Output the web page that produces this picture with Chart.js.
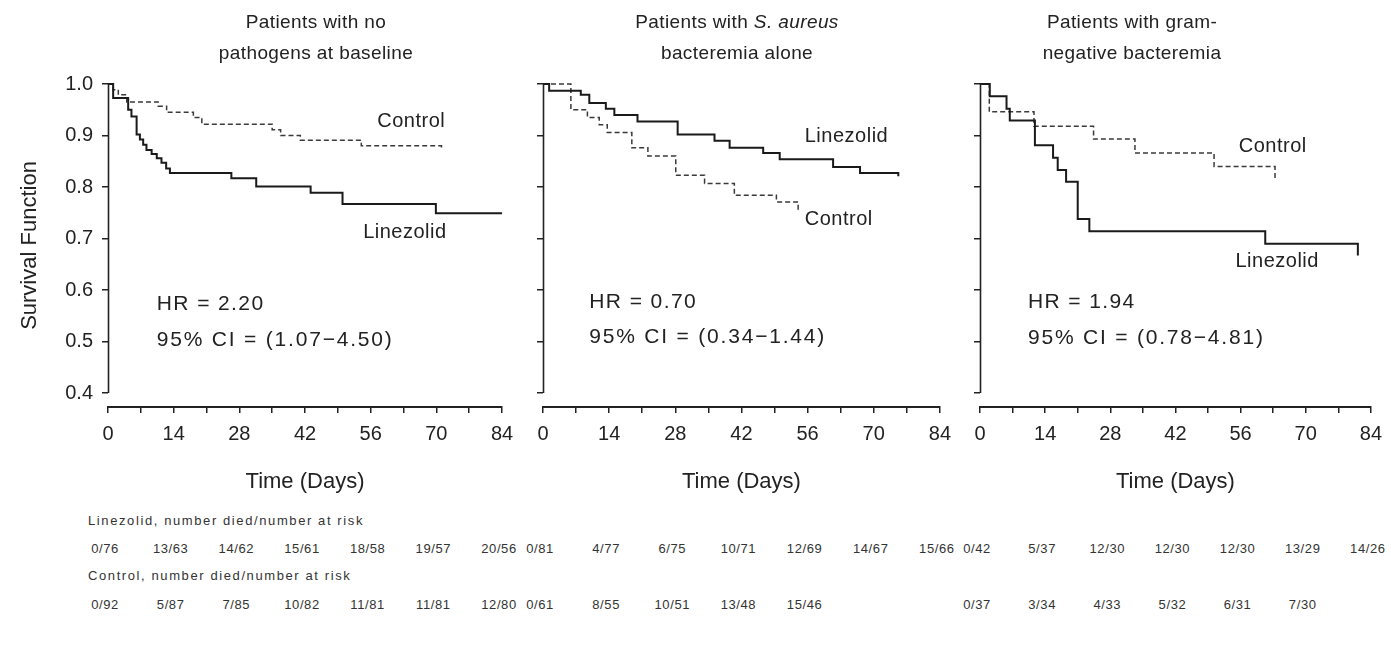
<!DOCTYPE html>
<html>
<head>
<meta charset="utf-8">
<script src="https://cdn.jsdelivr.net/npm/chart.js@4.4.1/dist/chart.umd.min.js"></script>
<style>
  html, body { margin:0; padding:0; background:#fff; width:1391px; height:646px; overflow:hidden;
    font-family:"Liberation Sans", Arial, sans-serif; color:#222; }
  canvas { position:absolute; top:0; }
  .ptitle { position:absolute; top:6px; width:340px; margin-left:-170px; text-align:center;
    font-size:19px; line-height:31px; letter-spacing:0.4px; color:#222; }
  .risk { position:absolute; font-size:13px; color:#333; white-space:nowrap;
    transform:translate(-50%,-50%); letter-spacing:0.6px; }
  .risklbl { position:absolute; font-size:13px; color:#333; white-space:nowrap;
    transform:translateY(-50%); letter-spacing:1.6px; }
</style>
</head>
<body>
<canvas id="c1" width="525" height="500" style="left:0px"></canvas>
<canvas id="c2" width="440" height="500" style="left:520px"></canvas>
<canvas id="c3" width="436" height="500" style="left:955px"></canvas>
<div class="ptitle" style="left:316px">Patients with no<br>pathogens at baseline</div>
<div class="ptitle" style="left:737px">Patients with <i>S. aureus</i><br>bacteremia alone</div>
<div class="ptitle" style="left:1132px">Patients with gram-<br>negative bacteremia</div>
<div id="table"></div>
<script>
// ---------------- DATA ----------------
const xTickDays = [0, 7, 14, 21, 28, 35, 42, 49, 56, 63, 70, 77, 84];
const yTickValues = [0.4, 0.5, 0.6, 0.7, 0.8, 0.9, 1.0];
const riskDays = [0, 14, 28, 42, 56, 70, 84];

// Panel 1: no pathogens at baseline
const p1LinezolidDays = [0, 1.1, 4.3, 5.0, 6.1, 6.8, 7.5, 8.2, 9.3, 10.4, 11.4, 12.4, 13.2, 26.3, 31.6, 43.2, 50.0, 69.9, 84];
const p1LinezolidSurv = [1.0, 0.973, 0.950, 0.937, 0.902, 0.892, 0.882, 0.872, 0.864, 0.856, 0.847, 0.836, 0.827, 0.817, 0.801, 0.789, 0.767, 0.749, 0.749];
const p1ControlDays = [0, 1.1, 2.2, 4.0, 10.7, 12.5, 18.2, 20.0, 35.0, 36.8, 41.0, 54.0, 71.1, 71.1];
const p1ControlSurv = [1.0, 0.989, 0.979, 0.965, 0.957, 0.945, 0.935, 0.922, 0.911, 0.900, 0.891, 0.880, 0.880, 0.872];

// Panel 2: S. aureus bacteremia alone
const p2LinezolidDays = [0, 1.3, 8.0, 9.8, 13.3, 15.1, 20.0, 28.5, 36.3, 39.5, 46.6, 50.1, 61.4, 67.1, 75.2, 75.2];
const p2LinezolidSurv = [1.0, 0.987, 0.979, 0.963, 0.952, 0.940, 0.927, 0.902, 0.890, 0.876, 0.866, 0.854, 0.839, 0.827, 0.827, 0.821];
const p2ControlDays = [0, 5.9, 9.4, 11.9, 13.6, 18.8, 22.2, 28.1, 34.2, 40.5, 49.4, 54.0];
const p2ControlSurv = [1.0, 0.950, 0.935, 0.921, 0.906, 0.876, 0.860, 0.823, 0.807, 0.784, 0.771, 0.755];

// Panel 3: gram-negative bacteremia
const p3LinezolidDays = [0, 2.1, 5.7, 6.4, 11.8, 15.7, 16.7, 18.5, 21.0, 23.5, 61.3, 81.2, 81.2];
const p3LinezolidSurv = [1.0, 0.976, 0.952, 0.929, 0.881, 0.857, 0.833, 0.810, 0.738, 0.714, 0.690, 0.690, 0.667];
const p3ControlDays = [0, 2.0, 11.6, 24.4, 33.3, 50.3, 63.4, 63.4];
const p3ControlSurv = [1.0, 0.946, 0.918, 0.893, 0.866, 0.840, 0.840, 0.817];

// Numbers at risk (died / at risk)
const p1LinezolidRisk = ['0/76', '13/63', '14/62', '15/61', '18/58', '19/57', '20/56'];
const p2LinezolidRisk = ['0/81', '4/77', '6/75', '10/71', '12/69', '14/67', '15/66'];
const p3LinezolidRisk = ['0/42', '5/37', '12/30', '12/30', '12/30', '13/29', '14/26'];
const p1ControlRisk = ['0/92', '5/87', '7/85', '10/82', '11/81', '11/81', '12/80'];
const p2ControlRisk = ['0/61', '8/55', '10/51', '13/48', '15/46'];
const p3ControlRisk = ['0/37', '3/34', '4/33', '5/32', '6/31', '7/30'];

const hrTexts = ['HR = 2.20', 'HR = 0.70', 'HR = 1.94'];
const ciTexts = ['95% CI = (1.07\u22124.50)', '95% CI = (0.34\u22121.44)', '95% CI = (0.78\u22124.81)'];

// ---------------- CHARTS ----------------
const FONT = '"Liberation Sans", Arial, sans-serif';
const INK = '#222';

const toPts = (d, s) => d.map((v, i) => ({ x: v, y: s[i] }));

const annotPlugin = {
  id: 'annot',
  afterDatasetsDraw(chart, args, opts) {
    const { ctx } = chart;
    const x = chart.scales.x, y = chart.scales.y;
    ctx.save();
    // vertical axis line from 1.0 down to 0.4
    ctx.strokeStyle = INK;
    ctx.lineWidth = 1.6;
    ctx.beginPath();
    const ax = Math.round(x.getPixelForValue(0)) + 0.5;
    ctx.moveTo(ax, y.getPixelForValue(1.0));
    ctx.lineTo(ax, y.getPixelForValue(0.4));
    ctx.stroke();
    // labels
    ctx.fillStyle = INK;
    ctx.textAlign = 'left';
    ctx.textBaseline = 'middle';
    (opts.texts || []).forEach(t => {
      ctx.font = t.size + 'px ' + FONT;
      ctx.letterSpacing = (t.ls || 0) + 'px';
      ctx.fillText(t.text, x.getPixelForValue(t.x), y.getPixelForValue(t.y));
    });
    ctx.restore();
  }
};

function makePanel(canvasId, cfg) {
  const c = document.getElementById(canvasId);
  return new Chart(c, {
    type: 'line',
    data: {
      datasets: [
        { label: 'Linezolid', data: toPts(cfg.linDays, cfg.linSurv), stepped: 'before',
          borderColor: '#1a1a1a', borderWidth: 2, pointRadius: 0, fill: false, clip: false },
        { label: 'Control', data: toPts(cfg.conDays, cfg.conSurv), stepped: 'before',
          borderColor: '#3a3a3a', borderWidth: 1.5, borderDash: [5, 3], pointRadius: 0, fill: false, clip: false }
      ]
    },
    options: {
      responsive: false,
      animation: false,
      events: [],
      layout: { padding: { top: 84, left: 0, right: cfg.padRight, bottom: 0 } },
      plugins: {
        legend: { display: false },
        tooltip: { enabled: false },
        annot: { texts: cfg.texts }
      },
      scales: {
        x: {
          type: 'linear', min: 0, max: 84,
          afterBuildTicks: s => { s.ticks = xTickDays.map(v => ({ value: v })); },
          afterFit: s => { s.height = 93; },
          ticks: { autoSkip: false, maxRotation: 0, padding: 9, color: INK,
                   font: { size: 20, family: FONT },
                   callback: v => (v % 14 === 0 ? String(v) : '') },
          grid: { drawOnChartArea: false, drawTicks: true, tickLength: 6, color: INK, lineWidth: 1.5 },
          border: { display: true, color: INK, width: 2 },
          title: { display: true, text: 'Time (Days)', color: INK,
                   font: { size: 22, family: FONT }, padding: { top: 0, bottom: 5 } }
        },
        y: {
          type: 'linear', min: 0.3728, max: 1.0,
          afterBuildTicks: s => { s.ticks = yTickValues.map(v => ({ value: v })); },
          afterFit: s => { s.width = cfg.yWidth; },
          ticks: { display: cfg.yLabels, autoSkip: false, padding: 9, color: INK,
                   font: { size: 20, family: FONT },
                   callback: v => Number(v).toFixed(1) },
          grid: { drawOnChartArea: false, drawTicks: true, tickLength: 6, color: INK, lineWidth: 1.5 },
          border: { display: false },
          title: { display: cfg.yLabels, text: 'Survival Function', color: INK,
                   font: { size: 22, family: FONT }, padding: { top: 17, bottom: 0 } }
        }
      }
    },
    plugins: [annotPlugin]
  });
}

const charts = [];
charts.push(makePanel('c1', {
  linDays: p1LinezolidDays, linSurv: p1LinezolidSurv, conDays: p1ControlDays, conSurv: p1ControlSurv,
  yWidth: 108, yLabels: true, padRight: 23,
  texts: [
    { text: 'Control', x: 57.4, y: 0.927, size: 20, ls: 0.5 },
    { text: 'Linezolid', x: 54.4, y: 0.711, size: 20, ls: 0.5 },
    { text: hrTexts[0], x: 10.4, y: 0.573, size: 21, ls: 1.4 },
    { text: ciTexts[0], x: 10.4, y: 0.503, size: 21, ls: 1.8 }
  ]
}));
charts.push(makePanel('c2', {
  linDays: p2LinezolidDays, linSurv: p2LinezolidSurv, conDays: p2ControlDays, conSurv: p2ControlSurv,
  yWidth: 23, yLabels: false, padRight: 20,
  texts: [
    { text: 'Linezolid', x: 55.4, y: 0.898, size: 20, ls: 0.5 },
    { text: 'Control', x: 55.4, y: 0.736, size: 20, ls: 0.5 },
    { text: hrTexts[1], x: 9.8, y: 0.577, size: 21, ls: 1.4 },
    { text: ciTexts[1], x: 9.8, y: 0.509, size: 21, ls: 1.8 }
  ]
}));
charts.push(makePanel('c3', {
  linDays: p3LinezolidDays, linSurv: p3LinezolidSurv, conDays: p3ControlDays, conSurv: p3ControlSurv,
  yWidth: 25, yLabels: false, padRight: 18,
  texts: [
    { text: 'Control', x: 55.6, y: 0.878, size: 20, ls: 0.5 },
    { text: 'Linezolid', x: 54.9, y: 0.655, size: 20, ls: 0.5 },
    { text: hrTexts[2], x: 10.3, y: 0.577, size: 21, ls: 1.4 },
    { text: ciTexts[2], x: 10.3, y: 0.507, size: 21, ls: 1.8 }
  ]
}));

// ---------------- AT-RISK TABLE ----------------
const table = document.getElementById('table');
const canvasLeft = [0, 520, 955];
const linRows = [p1LinezolidRisk, p2LinezolidRisk, p3LinezolidRisk];
const conRows = [p1ControlRisk, p2ControlRisk, p3ControlRisk];
function addDiv(cls, text, left, top) {
  const d = document.createElement('div');
  d.className = cls; d.textContent = text;
  d.style.left = left + 'px'; d.style.top = top + 'px';
  table.appendChild(d);
}
addDiv('risklbl', 'Linezolid, number died/number at risk', 88, 520);
addDiv('risklbl', 'Control, number died/number at risk', 88, 575);
charts.forEach((ch, p) => {
  const xs = ch.scales.x;
  linRows[p].forEach((t, i) => addDiv('risk', t, canvasLeft[p] + xs.getPixelForValue(riskDays[i]) - 3, 548));
  conRows[p].forEach((t, i) => addDiv('risk', t, canvasLeft[p] + xs.getPixelForValue(riskDays[i]) - 3, 604));
});
</script>
</body>
</html>
